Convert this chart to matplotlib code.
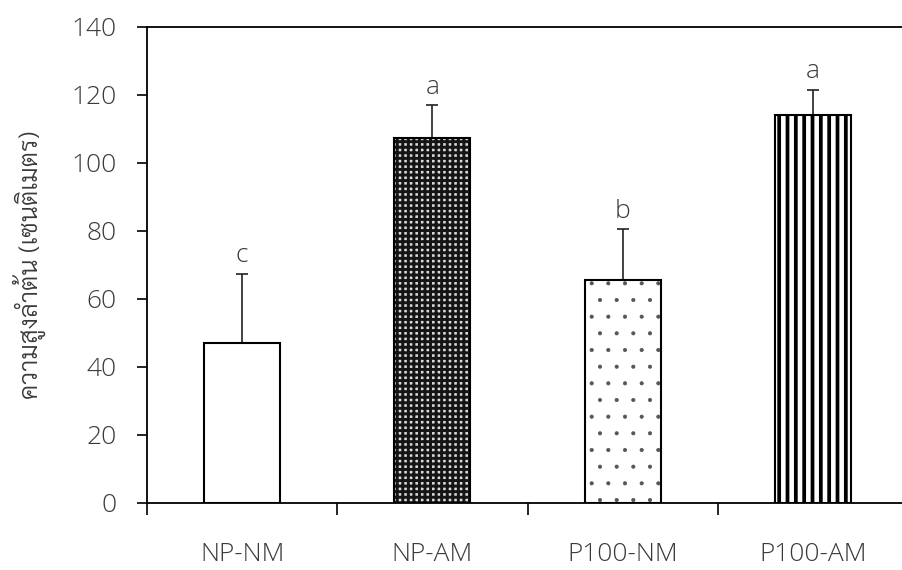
import matplotlib
matplotlib.use("Agg")
import matplotlib.pyplot as plt
from matplotlib import font_manager as fm

groups = ["NP-NM", "NP-AM", "P100-NM", "P100-AM"]
means = [47.0, 107.5, 65.5, 114.0]
errs = [20.5, 9.5, 15.0, 7.5]
letters = ["c", "a", "b", "a"]
ylabel = "ความสูงลำต้น (เซนติเมตร)"

# fill, hatch, hatch colour, hatch linewidth for each bar
faces = ["white", "#d8d8d8", "white", "white"]
hatches = ["", "+++", ".", "||"]
hatch_colors = ["black", "#151515", "#555555", "black"]
hatch_lws = [1.0, 2.1, 0.5, 2.7]

plt.rcParams["font.family"] = ["Open Sans", "Sarabun", "DejaVu Sans"]
plt.rcParams["font.weight"] = 300
txt = "#3a3a3a"

# light Thai face for the y label
thai_file = None
for f in fm.fontManager.ttflist:
    if f.name == "Sarabun" and f.weight == 300 and f.style == "normal":
        thai_file = f.fname
thai_prop = fm.FontProperties(fname=thai_file, size=18.5) if thai_file else \
    fm.FontProperties(family="Sarabun", weight=300, size=18.5)

fig = plt.figure(figsize=(9.03, 5.70), dpi=100)
ax = fig.add_axes([147 / 903, 67 / 570, 761 / 903, 476 / 570])

x = list(range(len(groups)))
for i in x:
    b = ax.bar(i, means[i], width=0.4, color=faces[i], edgecolor=hatch_colors[i],
               hatch=hatches[i], linewidth=0, zorder=2)
    b[0].set_hatch_linewidth(hatch_lws[i])
ax.bar(x, means, width=0.4, fill=False, edgecolor="black", linewidth=1.5, zorder=3)

ax.errorbar(x, means, yerr=[[0] * len(errs), errs], fmt="none", ecolor="#222222",
            elinewidth=1.2, capsize=4.3, capthick=1.2, zorder=1)

for i in x:
    ax.annotate(letters[i], (i, means[i] + errs[i]), xytext=(0, 4), textcoords="offset points",
                ha="center", va="bottom", fontsize=19, color=txt)

ax.set_xlim(-0.5, 3.5)
ax.set_ylim(0, 140)
ax.set_yticks(range(0, 141, 20))
ax.set_xticks(x)
ax.set_xticklabels(groups)
ax.set_xticks([-0.5, 0.5, 1.5, 2.5, 3.5], minor=True)

ax.tick_params(axis="y", direction="out", length=7, width=1.2, pad=15,
               labelsize=19, labelcolor=txt)
ax.tick_params(axis="x", which="major", length=0, pad=28, labelsize=19, labelcolor=txt)
ax.tick_params(axis="x", which="minor", direction="out", length=8.6, width=1.2)

for side in ["left", "bottom", "top"]:
    ax.spines[side].set_linewidth(1.3)
    ax.spines[side].set_color("black")
ax.spines["right"].set_visible(False)

ax.set_ylabel(ylabel, fontproperties=thai_prop, color=txt)
ax.yaxis.set_label_coords(-0.133, 0.5)

fig.savefig("out.png", dpi=100)
